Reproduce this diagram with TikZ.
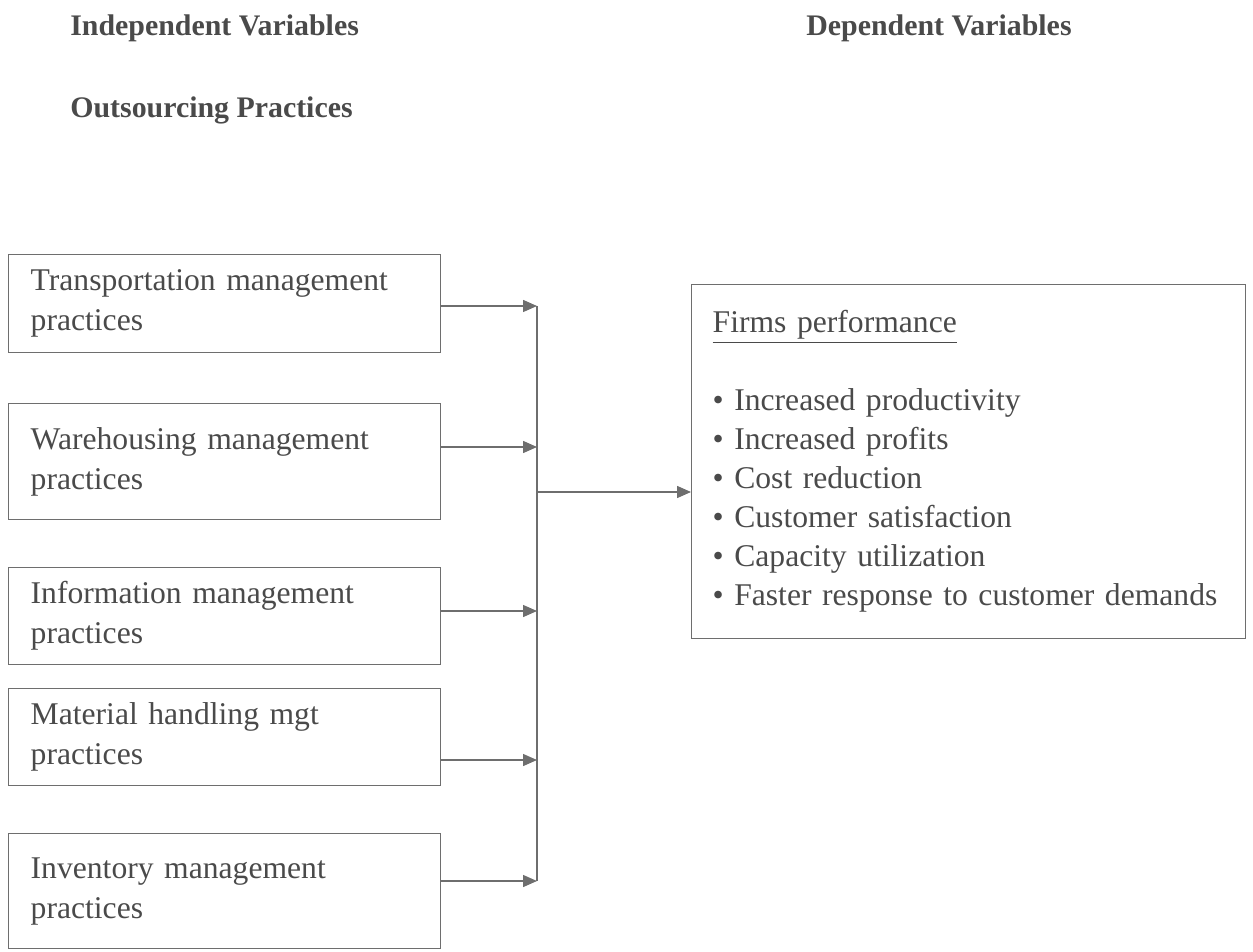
\documentclass[tikz,border=0pt]{standalone}
\usepackage{fontspec}
\setmainfont{Liberation Serif}
\usetikzlibrary{arrows.meta, positioning}
\definecolor{inkgray}{HTML}{4A4A4A}
\definecolor{linegray}{HTML}{6E6E6E}

\begin{document}
\begin{tikzpicture}[x=0.02cm, y=-0.02cm,
    box/.style={rectangle, draw=linegray, line width=0.8pt, anchor=north west, minimum width=8.64cm, inner xsep=0.44cm, text width=7.76cm, align=left, text=inkgray, font=\fontsize{18}{22.8}\selectfont},
    head/.style={anchor=west, inner sep=0pt, text=inkgray, font=\fontsize{17}{20}\selectfont\bfseries},
    bus/.style={draw=linegray, line width=0.8pt},
    arrow/.style={draw=linegray, line width=0.8pt, -{Triangle[length=0.28cm, width=0.24cm, fill=linegray]}}
]
\useasboundingbox (0,0) rectangle (1253,952);
% headings
\node (indep) [head] at (70,28) {Independent Variables};
\node (dep) [head] at (806,28) {Dependent Variables};
\node (outs) [head] at (70,110) {Outsourcing Practices};
% independent variables
\node (trans) [box, minimum height=1.96cm] at (8,254) {Transportation management\\practices};
\node (ware) [box, minimum height=2.32cm] at (8,403) {Warehousing management\\practices};
\node (info) [box, minimum height=1.94cm] at (8,567) {Information management\\practices};
\node (mat) [box, minimum height=1.94cm] at (8,688) {Material handling mgt\\practices};
\node (inv) [box, minimum height=2.30cm] at (8,833) {Inventory management\\practices};
% dependent variable
\node (perf) [box, minimum width=11.08cm, inner xsep=0.42cm, text width=10.24cm, minimum height=7.08cm, font=\fontsize{18}{22.2}\selectfont] at (691,284) {\underline{Firms performance}\\[0.78cm]
  \textbullet\ Increased productivity\\
  \textbullet\ Increased profits\\
  \textbullet\ Cost reduction\\
  \textbullet\ Customer satisfaction\\
  \textbullet\ Capacity utilization\\
  \textbullet\ Faster response to customer demands};
% connectors
\coordinate (j1) at (537,306);
\coordinate (j2) at (537,447);
\coordinate (j3) at (537,611);
\coordinate (j4) at (537,760);
\coordinate (j5) at (537,881);
\coordinate (jm) at (537,492);
\draw [arrow] (trans.east |- j1) -- (j1);
\draw [arrow] (ware.east |- j2) -- (j2);
\draw [arrow] (info.east |- j3) -- (j3);
\draw [arrow] (mat.east |- j4) -- (j4);
\draw [arrow] (inv.east |- j5) -- (j5);
\draw [bus] (j1) -- (j5);
\draw [arrow] (jm) -- (perf.west |- jm);
\end{tikzpicture}
\end{document}
